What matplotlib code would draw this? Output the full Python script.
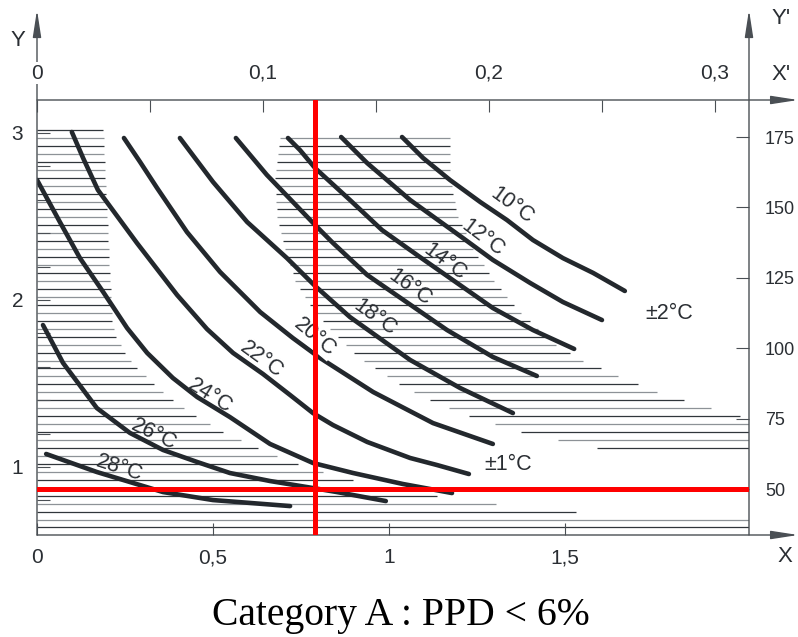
import numpy as np
import matplotlib
matplotlib.use("Agg")
import matplotlib.pyplot as plt

plt.rcParams['font.family'] = ['Liberation Sans', 'DejaVu Sans']

# ---------------- data (X = clo, Y = met) ----------------
c10_clo = [1.037, 1.097, 1.173, 1.259, 1.335, 1.409, 1.494, 1.580, 1.670]
c10_met = [2.976, 2.850, 2.719, 2.587, 2.479, 2.359, 2.251, 2.162, 2.054]
c12_clo = [0.864, 0.938, 1.060, 1.210, 1.295, 1.401, 1.494, 1.605]
c12_met = [2.976, 2.820, 2.599, 2.371, 2.240, 2.102, 1.988, 1.880]
c14_clo = [0.713, 0.747, 0.790, 0.889, 0.980, 1.088, 1.295, 1.409, 1.526]
c14_met = [2.970, 2.898, 2.790, 2.599, 2.419, 2.257, 1.952, 1.820, 1.707]
c16_clo = [0.565, 0.653, 0.727, 0.790, 0.841, 0.938, 1.165, 1.295, 1.420]
c16_met = [2.970, 2.749, 2.587, 2.449, 2.341, 2.150, 1.820, 1.659, 1.545]
c18_clo = [0.406, 0.500, 0.597, 0.710, 0.790, 0.889, 1.060, 1.202, 1.352]
c18_met = [2.970, 2.707, 2.467, 2.251, 2.084, 1.898, 1.641, 1.473, 1.323]
c20_clo = [0.247, 0.293, 0.341, 0.426, 0.520, 0.634, 0.727, 0.804, 0.955, 1.125, 1.295]
c20_met = [2.970, 2.826, 2.671, 2.407, 2.168, 1.928, 1.772, 1.653, 1.449, 1.263, 1.138]
c22_clo = [0.099, 0.131, 0.173, 0.284, 0.398, 0.483, 0.557, 0.642, 0.719, 0.784,
           0.841, 0.938, 1.060, 1.136, 1.227]
c22_met = [3.006, 2.850, 2.659, 2.341, 2.030, 1.826, 1.683, 1.557, 1.431, 1.323,
           1.251, 1.150, 1.054, 1.012, 0.958]
c24_clo = [0.0, 0.065, 0.122, 0.188, 0.256, 0.313, 0.386, 0.455, 0.548, 0.662,
           0.784, 0.898, 1.040, 1.179]
c24_met = [2.719, 2.467, 2.251, 2.048, 1.832, 1.683, 1.533, 1.419, 1.299, 1.138,
           1.024, 0.964, 0.898, 0.844]
c26_clo = [0.017, 0.074, 0.170, 0.264, 0.358, 0.455, 0.548, 0.662, 0.784, 0.852, 0.991]
c26_met = [1.850, 1.623, 1.353, 1.204, 1.102, 1.030, 0.964, 0.916, 0.874, 0.850, 0.796]
c28_clo = [0.026, 0.170, 0.264, 0.358, 0.500, 0.719]
c28_met = [1.078, 0.970, 0.910, 0.850, 0.802, 0.766]

curve_labels = ['10°C', '12°C', '14°C', '16°C', '18°C', '20°C', '22°C', '24°C', '26°C', '28°C']
label_clo = [1.349, 1.267, 1.159, 1.060, 0.960, 0.790, 0.639, 0.491, 0.332, 0.233]
label_met = [2.563, 2.371, 2.228, 2.072, 1.892, 1.778, 1.641, 1.425, 1.192, 0.994]
label_rot = [-36, -37, -37, -36, -36, -40, -36, -32, -26, -18]

tol_labels = ['±1°C', '±2°C']
tol_clo = [1.338, 1.795]
tol_met = [1.012, 1.922]

# hatched zones: boundaries as (met, clo)
zoneA_met = [3.018, 1.880, 1.784, 1.689, 1.593, 1.497, 1.401, 1.305, 1.210, 1.120,
             1.072, 1.024, 0.982, 0.934, 0.886, 0.838, 0.790, 0.737, 0.689, 0.630]
zoneA_right = [0.188, 0.213, 0.224, 0.250, 0.284, 0.330, 0.384, 0.452, 0.528, 0.622,
               0.676, 0.733, 0.795, 0.875, 0.974, 1.102, 1.267, 1.486, 2.05, 2.05]

zoneB_met_left = [2.976, 2.731, 2.497, 2.305, 2.114, 1.928, 1.784, 1.689, 1.593, 1.497,
                  1.401, 1.305, 1.210, 1.168, 1.120, 1.072]
zoneB_left = [0.690, 0.676, 0.682, 0.705, 0.733, 0.790, 0.852, 0.898, 0.957, 1.026,
              1.114, 1.227, 1.372, 1.466, 1.574, 1.707]
zoneB_met_right = [2.976, 2.731, 2.497, 2.305, 2.114, 1.928, 1.737, 1.641, 1.545, 1.449,
                   1.359, 1.305, 1.263, 1.072]
zoneB_right = [1.173, 1.173, 1.196, 1.239, 1.298, 1.372, 1.472, 1.548, 1.648, 1.759,
               1.903, 1.997, 2.05, 2.05]

bottom_ticks = [0, 0.5, 1, 1.5]
bottom_labels = ['0', '0,5', '1', '1,5']
left_ticks = [1, 2, 3]
left_labels = ['1', '2', '3']
left_minor = [0.8, 1.2, 1.4, 1.6, 1.8, 2.2, 2.4, 2.6, 2.8]
top_ticks = [0, 0.1, 0.2, 0.3]
top_labels = ['0', '0,1', '0,2', '0,3']
top_minor = [0.05, 0.15, 0.25]
right_ticks = [50, 75, 100, 125, 150, 175]
right_labels = ['50', '75', '100', '125', '150', '175']

ref_clo = 0.79      # vertical red line (X)
ref_wm2 = 50        # horizontal red line (Y')

# ---------------- figure ----------------
W, H = 798, 637
fig = plt.figure(figsize=(W / 100, H / 100), dpi=100)
ax = fig.add_axes([37 / W, 102 / H, 712 / W, 435 / H])
ax.set_xlim(0, 2.0227)
ax.set_ylim(0.5928, 3.1976)
ax_r = ax.twinx()
ax_r.set_ylim(33.67, 188.14)
ax_t = ax.twiny()
ax_t.set_xlim(0, 0.31504)

for a in (ax, ax_r, ax_t):
    for s in a.spines.values():
        s.set_visible(False)

axis_col = '#4a4f54'
txt_col = '#2a2e33'
curve_col = '#23282d'

# hatching
levels = np.arange(3.018, 0.60, -0.0476)
for i, yv in enumerate(levels):
    col = '#30363b' if i % 2 == 0 else '#8d9297'
    if zoneA_met[-1] <= yv <= zoneA_met[0]:
        xr = np.interp(yv, zoneA_met[::-1], zoneA_right[::-1])
        ax.plot([0, xr], [yv, yv], color=col, lw=0.9, zorder=1, solid_capstyle='butt')
    if zoneB_met_left[-1] - 0.001 <= yv <= zoneB_met_left[0]:
        xl = np.interp(yv, zoneB_met_left[::-1], zoneB_left[::-1])
        xr = np.interp(yv, zoneB_met_right[::-1], zoneB_right[::-1])
        ax.plot([xl, xr], [yv, yv], color=col, lw=0.9, zorder=1, solid_capstyle='butt')

curves = [(c10_clo, c10_met), (c12_clo, c12_met), (c14_clo, c14_met), (c16_clo, c16_met),
          (c18_clo, c18_met), (c20_clo, c20_met), (c22_clo, c22_met), (c24_clo, c24_met),
          (c26_clo, c26_met), (c28_clo, c28_met)]
for cx, cy in curves:
    ax.plot(cx, cy, color=curve_col, lw=3.3, solid_capstyle='round',
            solid_joinstyle='round', zorder=3)

for lab, x, y, r in zip(curve_labels, label_clo, label_met, label_rot):
    kw = {}
    if lab == '20°C':
        kw['bbox'] = dict(facecolor='white', edgecolor='none', pad=0.5)
    ax.text(x, y, lab, rotation=r, rotation_mode='anchor', ha='center', va='center',
            fontsize=15.5, color=txt_col, zorder=4, **kw)
for lab, x, y in zip(tol_labels, tol_clo, tol_met):
    ax.text(x, y, lab, ha='center', va='center', fontsize=15.5, color=txt_col, zorder=4)

# red reference lines
ax_r.axvline(ref_clo, color='#ff0000', lw=3.6, zorder=10)
ax_r.axhline(ref_wm2, color='#ff0000', lw=3.6, zorder=10)

# ticks
ax.set_xticks(bottom_ticks)
ax.set_xticklabels(bottom_labels)
ax.set_yticks(left_ticks)
ax.set_yticklabels(left_labels)
ax.set_yticks(left_minor, minor=True)
ax.tick_params(axis='x', which='both', direction='in', length=8.6, width=0.8,
               color=axis_col, pad=9.4, labelsize=15, labelcolor=txt_col,
               top=False, bottom=True)
ax.tick_params(axis='y', which='both', direction='in', length=9.4, width=0.8,
               color=axis_col, pad=10, labelsize=15, labelcolor=txt_col,
               left=True, right=False)

ax_t.set_xticks(top_ticks)
ax_t.set_xticklabels(top_labels)
ax_t.set_xticks(top_minor, minor=True)
ax_t.tick_params(axis='x', which='both', direction='in', length=8.6, width=0.8,
                 color=axis_col, pad=12.5, labelsize=15, labelcolor=txt_col,
                 top=True, bottom=False, labeltop=True, labelbottom=False)
ax_t.tick_params(axis='y', left=False, right=False, labelleft=False, labelright=False)
for t in ax_t.get_xticklabels():
    if t.get_text() == '0':
        t.set_bbox(dict(facecolor='white', edgecolor='none', pad=1))
        t.set_zorder(20)

ax_r.set_yticks(right_ticks)
ax_r.set_yticklabels(right_labels)
ax_r.tick_params(axis='y', which='both', direction='in', length=9.4, width=0.8,
                 color=axis_col, pad=11.5, labelsize=13, labelcolor=txt_col,
                 right=True, left=False)

# axis lines with arrows
arrow_kw = dict(arrowstyle='-|>,head_length=1.1,head_width=0.17', color=axis_col,
                lw=1.0, mutation_scale=15, shrinkA=0, shrinkB=0)
for start, end in [((0, 0), (0, 1.207)), ((1, 0), (1, 1.207)),
                   ((0, 1), (1.069, 1)), ((0, 0), (1.069, 0))]:
    ax.annotate('', xy=end, xytext=start, xycoords='axes fraction',
                textcoords='axes fraction', arrowprops=arrow_kw, zorder=5)

# axis names
fig.text(18 / W, 1 - 40 / H, 'Y', fontsize=16, color=txt_col, ha='center', va='center')
fig.text(781 / W, 1 - 19 / H, "Y'", fontsize=16, color=txt_col, ha='center', va='center')
fig.text(781 / W, 1 - 74 / H, "X'", fontsize=16, color=txt_col, ha='center', va='center')
fig.text(785 / W, 1 - 557 / H, 'X', fontsize=16, color=txt_col, ha='center', va='center')

fig.text(401 / W, 1 - 625 / H, 'Category A : PPD < 6%', fontsize=28.5,
         family=['Liberation Serif', 'DejaVu Serif'], color='black',
         ha='center', va='baseline')

fig.savefig('out.png', dpi=100)
